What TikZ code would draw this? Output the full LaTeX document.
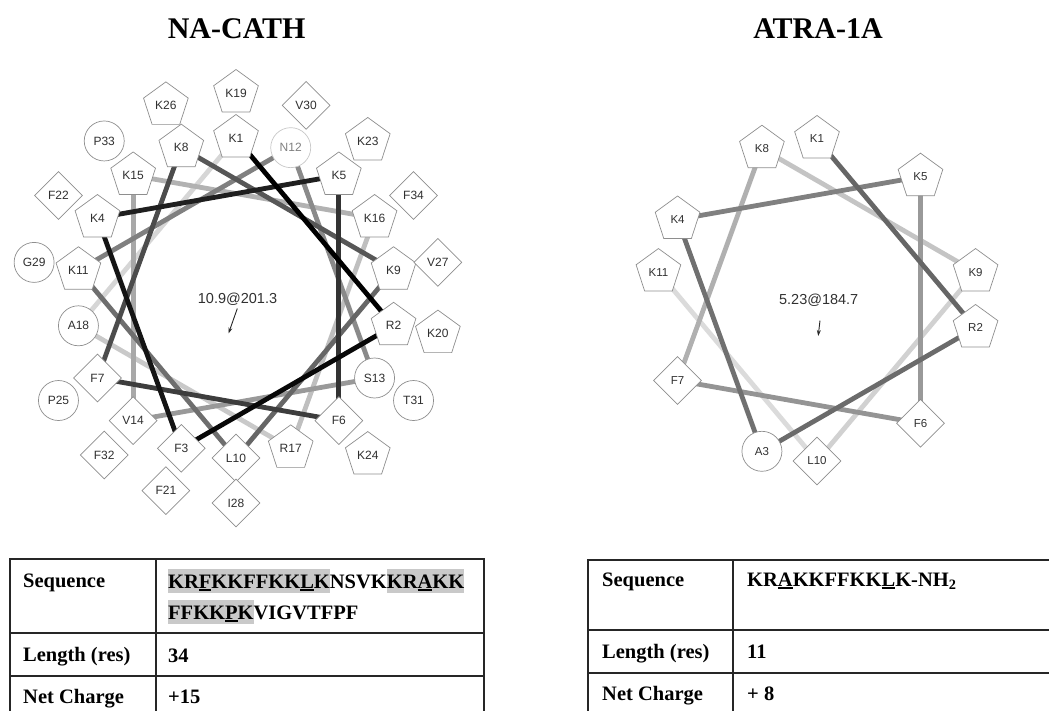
\documentclass[tikz,border=0pt]{standalone}
\usepackage{fontspec}
\setmainfont{Liberation Serif}
\newfontfamily\labfont{Liberation Sans}
\usetikzlibrary{shapes.geometric,backgrounds,arrows.meta}
\definecolor{outl}{HTML}{8E8E8E}
\definecolor{txtc}{HTML}{303030}
\definecolor{hlc}{HTML}{C9C9C9}
\definecolor{nlight}{HTML}{C8C8C8}
\newcommand\hlt[1]{{\setlength{\fboxsep}{0pt}\colorbox{hlc}{\rule[-4.5pt]{0pt}{23.5pt}#1}}}
\newcommand\undl[1]{{\setbox0\hbox{#1}\rlap{\rule[-3.2pt]{\wd0}{1.8pt}}\box0}}
\newcommand\resfont{\labfont\fontsize{12}{12}\selectfont}
\tikzset{
  res/.style={fill=white, draw=outl, line width=0.7pt, text=txtc, font=\resfont, inner sep=0pt},
  pent/.style={res, regular polygon, regular polygon sides=5, minimum size=47pt},
  dia/.style={res, diamond, minimum width=48pt, minimum height=48pt},
  circ/.style={res, circle, minimum size=40pt},
  circl/.style={circ, draw=nlight, text=black!50},
  conn/.style={line width=4.8pt},
  title/.style={font=\fontsize{30}{30}\selectfont\bfseries, inner sep=0pt, anchor=base},
  tab/.style={font=\fontsize{20.5}{24}\selectfont\bfseries, inner sep=0pt, anchor=base west},
  tline/.style={line width=1.4pt, draw=black!85},
  ctr/.style={font=\labfont\fontsize{14.5}{14.5}\selectfont, text=txtc, inner sep=0pt},
  carrow/.style={-{Stealth[length=6pt,width=4pt]}, line width=0.9pt, draw=black!85}
}
\begin{document}
\begin{tikzpicture}[x=1pt,y=-1pt]
\useasboundingbox (0,0) rectangle (1049,710);
% titles
\node[title] (t1) at (236.7,38.5) {NA-CATH};
\node[title] (t2) at (818,38.5) {ATRA-1A};

% NA-CATH wheel
\begin{scope}[shift={(236,298)}]
\node[pent] (a1) at ({160*cos(90)},{-160*sin(90)}) {K1};
\node[pent] (a2) at ({160*cos(-10)},{-160*sin(-10)}) {R2};
\node[dia] (a3) at ({160*cos(-110)},{-160*sin(-110)}) {F3};
\node[pent] (a4) at ({160*cos(150)},{-160*sin(150)}) {K4};
\node[pent] (a5) at ({160*cos(50)},{-160*sin(50)}) {K5};
\node[dia] (a6) at ({160*cos(-50)},{-160*sin(-50)}) {F6};
\node[dia] (a7) at ({160*cos(-150)},{-160*sin(-150)}) {F7};
\node[pent] (a8) at ({160*cos(110)},{-160*sin(110)}) {K8};
\node[pent] (a9) at ({160*cos(10)},{-160*sin(10)}) {K9};
\node[dia] (a10) at ({160*cos(-90)},{-160*sin(-90)}) {L10};
\node[pent] (a11) at ({160*cos(170)},{-160*sin(170)}) {K11};
\node[circl] (a12) at ({160*cos(70)},{-160*sin(70)}) {N12};
\node[circ] (a13) at ({160*cos(-30)},{-160*sin(-30)}) {S13};
\node[dia] (a14) at ({160*cos(-130)},{-160*sin(-130)}) {V14};
\node[pent] (a15) at ({160*cos(130)},{-160*sin(130)}) {K15};
\node[pent] (a16) at ({160*cos(30)},{-160*sin(30)}) {K16};
\node[pent] (a17) at ({160*cos(-70)},{-160*sin(-70)}) {R17};
\node[circ] (a18) at ({160*cos(-170)},{-160*sin(-170)}) {A18};
\node[pent] (a19) at ({205*cos(90)},{-205*sin(90)}) {K19};
\node[pent] (a20) at ({205*cos(-10)},{-205*sin(-10)}) {K20};
\node[dia] (a21) at ({205*cos(-110)},{-205*sin(-110)}) {F21};
\node[dia] (a22) at ({205*cos(150)},{-205*sin(150)}) {F22};
\node[pent] (a23) at ({205*cos(50)},{-205*sin(50)}) {K23};
\node[pent] (a24) at ({205*cos(-50)},{-205*sin(-50)}) {K24};
\node[circ] (a25) at ({205*cos(-150)},{-205*sin(-150)}) {P25};
\node[pent] (a26) at ({205*cos(110)},{-205*sin(110)}) {K26};
\node[dia] (a27) at ({205*cos(10)},{-205*sin(10)}) {V27};
\node[dia] (a28) at ({205*cos(-90)},{-205*sin(-90)}) {I28};
\node[circ] (a29) at ({205*cos(170)},{-205*sin(170)}) {G29};
\node[dia] (a30) at ({205*cos(70)},{-205*sin(70)}) {V30};
\node[circ] (a31) at ({205*cos(-30)},{-205*sin(-30)}) {T31};
\node[dia] (a32) at ({205*cos(-130)},{-205*sin(-130)}) {F32};
\node[circ] (a33) at ({205*cos(130)},{-205*sin(130)}) {P33};
\node[dia] (a34) at ({205*cos(30)},{-205*sin(30)}) {F34};
\end{scope}

% ATRA-1A wheel
\begin{scope}[shift={(817,300)}]
\renewcommand\resfont{\labfont\fontsize{11.5}{11.5}\selectfont}
\node[pent] (b1) at ({161*cos(90)},{-161*sin(90)}) {K1};
\node[pent] (b2) at ({161*cos(-10)},{-161*sin(-10)}) {R2};
\node[circ] (b3) at ({161*cos(-110)},{-161*sin(-110)}) {A3};
\node[pent] (b4) at ({161*cos(150)},{-161*sin(150)}) {K4};
\node[pent] (b5) at ({161*cos(50)},{-161*sin(50)}) {K5};
\node[dia] (b6) at ({161*cos(-50)},{-161*sin(-50)}) {F6};
\node[dia] (b7) at ({161*cos(-150)},{-161*sin(-150)}) {F7};
\node[pent] (b8) at ({161*cos(110)},{-161*sin(110)}) {K8};
\node[pent] (b9) at ({161*cos(10)},{-161*sin(10)}) {K9};
\node[dia] (b10) at ({161*cos(-90)},{-161*sin(-90)}) {L10};
\node[pent] (b11) at ({161*cos(170)},{-161*sin(170)}) {K11};
\end{scope}

% connectors (lightest first, darkest on top)
\begin{pgfonlayer}{background}
\draw[conn, draw=black!16] (a18.center) -- (a1.center);
\draw[conn, draw=black!21] (a17.center) -- (a18.center);
\draw[conn, draw=black!25] (a16.center) -- (a17.center);
\draw[conn, draw=black!30] (a15.center) -- (a16.center);
\draw[conn, draw=black!34] (a14.center) -- (a15.center);
\draw[conn, draw=black!40] (a13.center) -- (a14.center);
\draw[conn, draw=black!46] (a12.center) -- (a13.center);
\draw[conn, draw=black!50] (a11.center) -- (a12.center);
\draw[conn, draw=black!57] (a10.center) -- (a11.center);
\draw[conn, draw=black!60] (a9.center) -- (a10.center);
\draw[conn, draw=black!66] (a8.center) -- (a9.center);
\draw[conn, draw=black!70] (a7.center) -- (a8.center);
\draw[conn, draw=black!76] (a6.center) -- (a7.center);
\draw[conn, draw=black!80] (a5.center) -- (a6.center);
\draw[conn, draw=black!88] (a4.center) -- (a5.center);
\draw[conn, draw=black!92] (a3.center) -- (a4.center);
\draw[conn, draw=black!97] (a2.center) -- (a3.center);
\draw[conn, draw=black] (a1.center) -- (a2.center);

\draw[conn, draw=black!14] (b10.center) -- (b11.center);
\draw[conn, draw=black!18] (b9.center) -- (b10.center);
\draw[conn, draw=black!23] (b8.center) -- (b9.center);
\draw[conn, draw=black!31] (b7.center) -- (b8.center);
\draw[conn, draw=black!42] (b6.center) -- (b7.center);
\draw[conn, draw=black!40] (b5.center) -- (b6.center);
\draw[conn, draw=black!50] (b4.center) -- (b5.center);
\draw[conn, draw=black!56] (b3.center) -- (b4.center);
\draw[conn, draw=black!58] (b2.center) -- (b3.center);
\draw[conn, draw=black!60] (b1.center) -- (b2.center);
\end{pgfonlayer}

% centre labels and moment arrows
\node[ctr] (c1) at (237.5,299) {10.9@201.3};
\coordinate (c1s) at (237.3,308.5);
\coordinate (c1e) at (228.5,333.5);
\draw[carrow] (c1s) -- (c1e);
\node[ctr] (c2) at (818.7,300) {5.23@184.7};
\coordinate (c2s) at (820,320.5);
\coordinate (c2e) at (818.2,336);
\draw[carrow] (c2s) -- (c2e);

% left table
\draw[tline] (10,712) -- (10,559) -- (484,559) -- (484,712);
\draw[tline] (156,559) -- (156,712);
\draw[tline] (10,633) -- (484,633);
\draw[tline] (10,676) -- (484,676);
\node[tab] (ls) at (23,587) {Sequence};
\node[tab] (lq1) at (168,588) {\hlt{KR\undl{F}KKFFKK\undl{L}K}NSVK\hlt{KR\undl{A}KK}};
\node[tab] (lq2) at (168,619) {\hlt{FFKK\undl{P}K}VIGVTFPF};
\node[tab] (ll) at (23,661) {Length (res)};
\node[tab] (llv) at (168,662) {34};
\node[tab] (lc) at (23,703) {Net Charge};
\node[tab] (lcv) at (168,703) {+15};

% right table
\draw[tline] (1052,560) -- (588,560) -- (588,712);
\draw[tline] (733,560) -- (733,712);
\draw[tline] (588,630) -- (1052,630);
\draw[tline] (588,673) -- (1052,673);
\node[tab] (rs) at (602,586) {Sequence};
\node[tab] (rq) at (747,586) {KR\undl{A}KKFFKK\undl{L}K-NH\textsubscript{2}};
\node[tab] (rl) at (602,658.5) {Length (res)};
\node[tab] (rlv) at (747,658.5) {11};
\node[tab] (rc) at (602,700) {Net Charge};
\node[tab] (rcv) at (747,700) {+ 8};
\end{tikzpicture}
\end{document}
